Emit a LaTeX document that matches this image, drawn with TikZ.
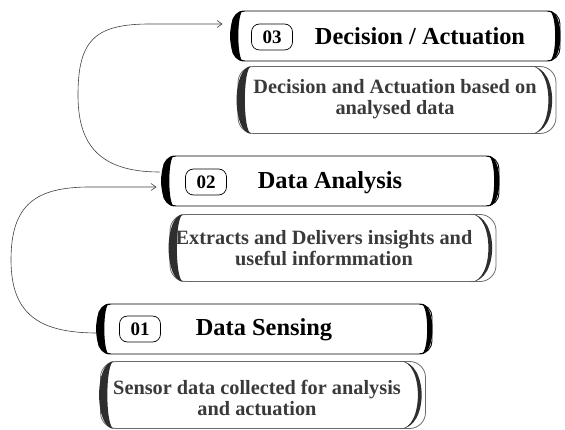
\documentclass[tikz,border=0pt]{standalone}
\usepackage{fontspec}
\setmainfont{Liberation Serif}
\usetikzlibrary{arrows.meta,calc}
\definecolor{desctext}{HTML}{3A3A3A}
\definecolor{descedge}{HTML}{2E2E2E}
\definecolor{thinedge}{HTML}{6A6A6A}
\newcommand\leftcres[4]{%
  \fill[#4] ([xshift=#2]#1.north west) .. controls ([xshift=-#3]#1.north west) and ([xshift=-#3]#1.south west) .. ([xshift=#2]#1.south west)
    .. controls ([xshift=#3-1pt]#1.south west) and ([xshift=#3-1pt]#1.north west) .. cycle;}
\newcommand\rightcres[4]{%
  \fill[#4] ([xshift=-#2]#1.north east) .. controls ([xshift=#3]#1.north east) and ([xshift=#3]#1.south east) .. ([xshift=-#2]#1.south east)
    .. controls ([xshift=-#3+1pt]#1.south east) and ([xshift=-#3+1pt]#1.north east) .. cycle;}
\begin{document}
\begin{tikzpicture}[x=1pt,y=-1pt,
  headbox/.style={draw=black, line width=0.9pt, rounded corners=13pt, minimum width=#1, minimum height=50pt, inner sep=0pt},
  descbox/.style={draw=thinedge, line width=0.8pt, rounded corners=16pt, minimum width=#1, minimum height=67pt, inner sep=0pt},
  pill/.style={draw=black, line width=0.7pt, rounded corners=8pt, minimum width=41pt, minimum height=26pt, inner sep=0pt, font=\fontsize{19}{22}\selectfont\bfseries},
  title/.style={font=\fontsize{24.4}{28}\selectfont\bfseries, inner sep=0pt},
  desc/.style={font=\fontsize{20.3}{21.5}\selectfont\bfseries, text=desctext, align=center, inner sep=0pt},
  conn/.style={draw=black!75, line width=0.6pt, -{Straight Barb[length=5pt,width=7pt]}}
]
\useasboundingbox (0,0) rectangle (565,430);

% Level 3
\node[headbox=328pt] (h3) at (396,36) {};
\leftcres{h3}{12pt}{6pt}{black}
\rightcres{h3}{12pt}{4pt}{black}
\node[pill] (p3) at (272,37) {03};
\node[title] (t3) at (420,36) {Decision / Actuation};
\node[descbox=318pt] (d3) at (397,100) {};
\leftcres{d3}{14pt}{6pt}{descedge}
\rightcres{d3}{26pt}{3pt}{descedge}
\node[desc] (x3) at (395,99) {Decision and Actuation based on\\analysed data};

% Level 2
\node[headbox=336pt] (h2) at (331,181) {};
\leftcres{h2}{12pt}{6pt}{black}
\rightcres{h2}{12pt}{4pt}{black}
\node[pill] (p2) at (206,182) {02};
\node[title] (t2) at (330,183) {Data Analysis};
\node[descbox=326pt] (d2) at (333,248) {};
\leftcres{d2}{14pt}{6pt}{descedge}
\rightcres{d2}{26pt}{3pt}{descedge}
\node[desc] (x2) at (324,248) {Extracts and Delivers insights and\\useful informmation};

% Level 1
\node[headbox=334pt] (h1) at (265,329) {};
\leftcres{h1}{12pt}{6pt}{black}
\rightcres{h1}{12pt}{4pt}{black}
\node[pill] (p1) at (140,329) {01};
\node[title] (t1) at (264,330) {Data Sensing};
\node[descbox=325pt] (d1) at (263,395) {};
\leftcres{d1}{14pt}{6pt}{descedge}
\rightcres{d1}{26pt}{3pt}{descedge}
\node[desc] (x1) at (257,398) {Sensor data collected for analysis\\and actuation};

% Connectors
\draw[conn] ([xshift=-3pt,yshift=9pt]h2.west) .. controls (95,172) and (78,140) .. (78,95)
  .. controls (78,40) and (95,24) .. (150,24) -- ([xshift=-9pt,yshift=12pt]h3.west);
\draw[conn] ([yshift=-4pt]h1.west) .. controls (40,333) and (11,315) .. (11,260)
  .. controls (11,205) and (35,187) .. (90,187) -- ([xshift=-6pt,yshift=-6pt]h2.west);
\end{tikzpicture}
\end{document}
